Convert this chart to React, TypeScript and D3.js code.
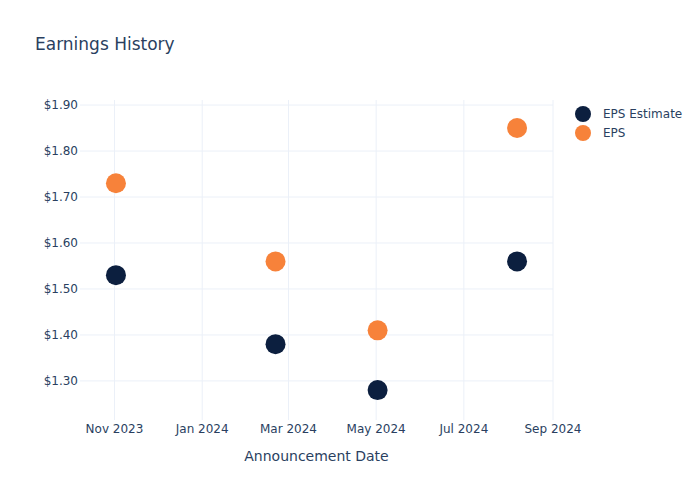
import React from "react";
import * as d3 from "d3";

const dates = ["2023-11-02", "2024-02-21", "2024-05-02", "2024-08-07"];
const epsEstimate = [1.53, 1.38, 1.28, 1.56];
const eps = [1.73, 1.56, 1.41, 1.85];
const yTicks = [1.3, 1.4, 1.5, 1.6, 1.7, 1.8, 1.9];
const xTicks = ["2023-11-01", "2024-01-01", "2024-03-01", "2024-05-01", "2024-07-01", "2024-09-01"];
const seriesNames = ["EPS Estimate", "EPS"];
const colors = ["#0c1f3f", "#f7823a"];

const W = 700, H = 500;
const L = 80, R = 553, T = 100, B = 420;
const FONT = "'DejaVu Sans', Verdana, sans-serif";
const TXT = "#2a3f5f";

export default function App() {
  const parse = d3.utcParse("%Y-%m-%d");
  const x = d3.scaleUtc().domain([parse("2023-10-08")!, parse("2024-09-01")!]).range([L, R]);
  const y = d3.scaleLinear().domain([1.215, 1.911]).range([B, T]);
  const fmtX = d3.utcFormat("%b %Y");
  const series = [epsEstimate, eps];
  return (
    <svg width={W} height={H} style={{ position: "absolute", left: 0, top: 0, background: "#fff" }} fontFamily={FONT}>
      <text x={35} y={50} fontSize={17} fill={TXT}>Earnings History</text>
      {yTicks.map((t) => (
        <g key={t}>
          <line x1={L} x2={R} y1={y(t)} y2={y(t)} stroke="#ebf0f8" strokeWidth={1} />
          <text x={L - 2} y={y(t)} dy="0.35em" textAnchor="end" fontSize={12} fill={TXT}>
            {"$" + t.toFixed(2)}
          </text>
        </g>
      ))}
      {xTicks.map((s) => {
        const d = parse(s)!;
        return (
          <g key={s}>
            <line x1={x(d)} x2={x(d)} y1={T} y2={B} stroke="#ebf0f8" strokeWidth={1} />
            <text x={x(d)} y={433} textAnchor="middle" fontSize={12} fill={TXT}>{fmtX(d)}</text>
          </g>
        );
      })}
      <text x={(L + R) / 2} y={461} textAnchor="middle" fontSize={14} fill={TXT}>Announcement Date</text>
      {series.map((vals, si) =>
        vals.map((v, i) => (
          <circle key={si + "-" + i} cx={x(parse(dates[i])!)} cy={y(v)} r={10} fill={colors[si]} />
        ))
      )}
      {seriesNames.map((n, i) => (
        <g key={n}>
          <circle cx={583} cy={114 + i * 19} r={8} fill={colors[i]} />
          <text x={603} y={114 + i * 19} dy="0.35em" fontSize={12} fill={TXT}>{n}</text>
        </g>
      ))}
    </svg>
  );
}
